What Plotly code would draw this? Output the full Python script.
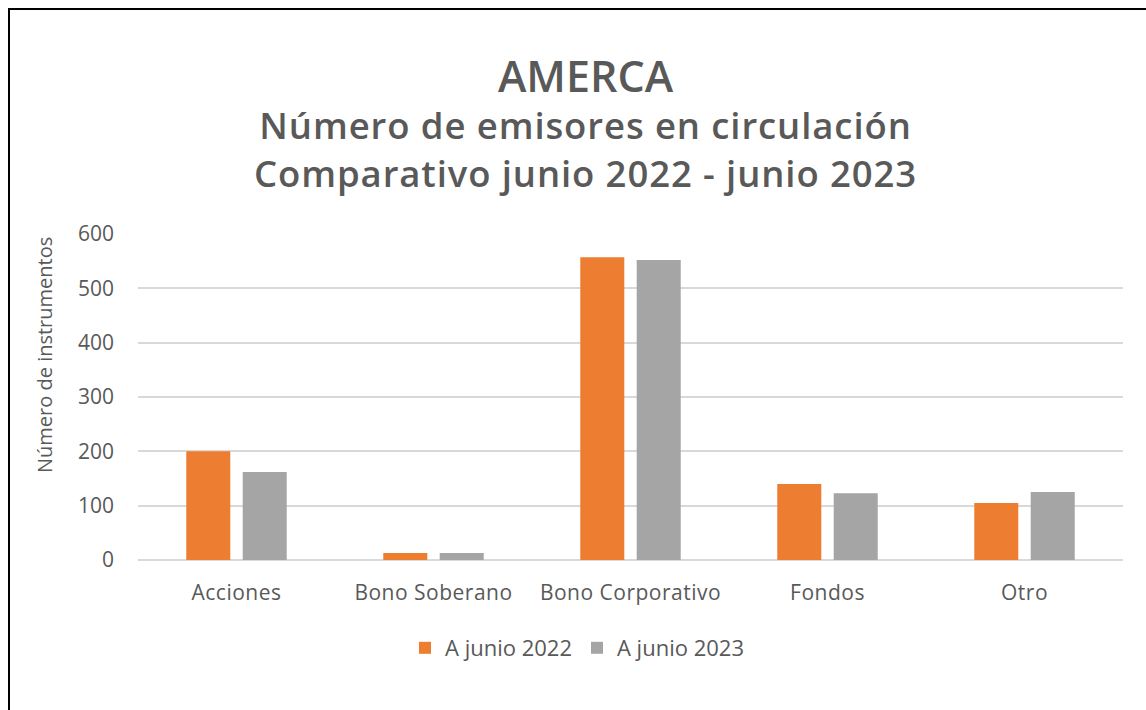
import plotly.graph_objects as go

categories = ["Acciones", "Bono Soberano", "Bono Corporativo", "Fondos", "Otro"]
values_2022 = [200, 13, 557, 140, 105]
values_2023 = [162, 13, 552, 123, 125]
series_names = ["A junio 2022", "A junio 2023"]
y_ticks = [0, 100, 200, 300, 400, 500, 600]
title_lines = ["AMERCA", "Número de emisores en circulación", "Comparativo junio 2022 - junio 2023"]

W, H = 1146, 710
L, R, T, B = 138, 23, 234, 150
PW, PH = W - L - R, H - T - B

def px_x(p):
    return (p - L) / PW

def px_y(p):
    return (H - B - p) / PH

FONT = "Open Sans"
TXT = "#595959"

fig = go.Figure()
fig.add_trace(go.Bar(x=categories, y=values_2022, name=series_names[0],
                     marker=dict(color="#ED7D31", line=dict(width=0))))
fig.add_trace(go.Bar(x=categories, y=values_2023, name=series_names[1],
                     marker=dict(color="#A5A5A5", line=dict(width=0))))

fig.update_layout(
    width=W, height=H,
    margin=dict(l=L, r=R, t=T, b=B, autoexpand=False),
    paper_bgcolor="white", plot_bgcolor="white",
    barmode="group", bargap=0.427, bargroupgap=0.22,
    font=dict(family=FONT, color=TXT, size=21),
    showlegend=True,
    legend=dict(orientation="h", x=px_x(577), xanchor="center",
                y=px_y(648), yanchor="middle",
                font=dict(family=FONT, size=22, color=TXT),
                itemwidth=30, traceorder="normal"),
    xaxis=dict(showgrid=False, showline=False, zeroline=False,
               tickmode="array", tickvals=categories,
               ticktext=[f"<span style='letter-spacing:0.5px'>{c}</span>" for c in categories],
               tickfont=dict(family=FONT, size=21, color=TXT),
               ticks="", ticklabelstandoff=18),
    yaxis=dict(range=[0, 600], tickvals=y_ticks, showgrid=True,
               gridcolor="#D9D9D9", gridwidth=1.6, zeroline=True,
               zerolinecolor="#D9D9D9", zerolinewidth=1.6, showline=False,
               ticks="", ticklabelstandoff=23,
               tickfont=dict(family=FONT, size=21, color=TXT)),
)

fig.add_annotation(text="Número de instrumentos", xref="paper", yref="paper",
                   x=px_x(44), y=px_y(355), xanchor="center", yanchor="middle",
                   textangle=-90, showarrow=False,
                   font=dict(family=FONT, size=20, color=TXT))

title_text = (
    f"<span style='font-size:43px'>{title_lines[0]}</span><br>"
    f"<span style='letter-spacing:0.9px'>{title_lines[1]}</span><br>"
    f"<span style='letter-spacing:0.9px'>{title_lines[2]}</span>"
)
fig.add_annotation(text=title_text, xref="paper", yref="paper",
                   x=px_x(585), y=px_y(122), xanchor="center", yanchor="middle",
                   showarrow=False, align="center",
                   font=dict(family=FONT, size=36.5, color=TXT, weight=600))

fig.add_shape(type="rect", xref="paper", yref="paper",
              x0=px_x(9), x1=px_x(1160), y0=px_y(730), y1=px_y(9),
              line=dict(color="black", width=2), fillcolor="rgba(0,0,0,0)",
              layer="above")

fig.write_html("out.html", config={"displayModeBar": False},
               post_script="document.body.style.margin='0px';")
